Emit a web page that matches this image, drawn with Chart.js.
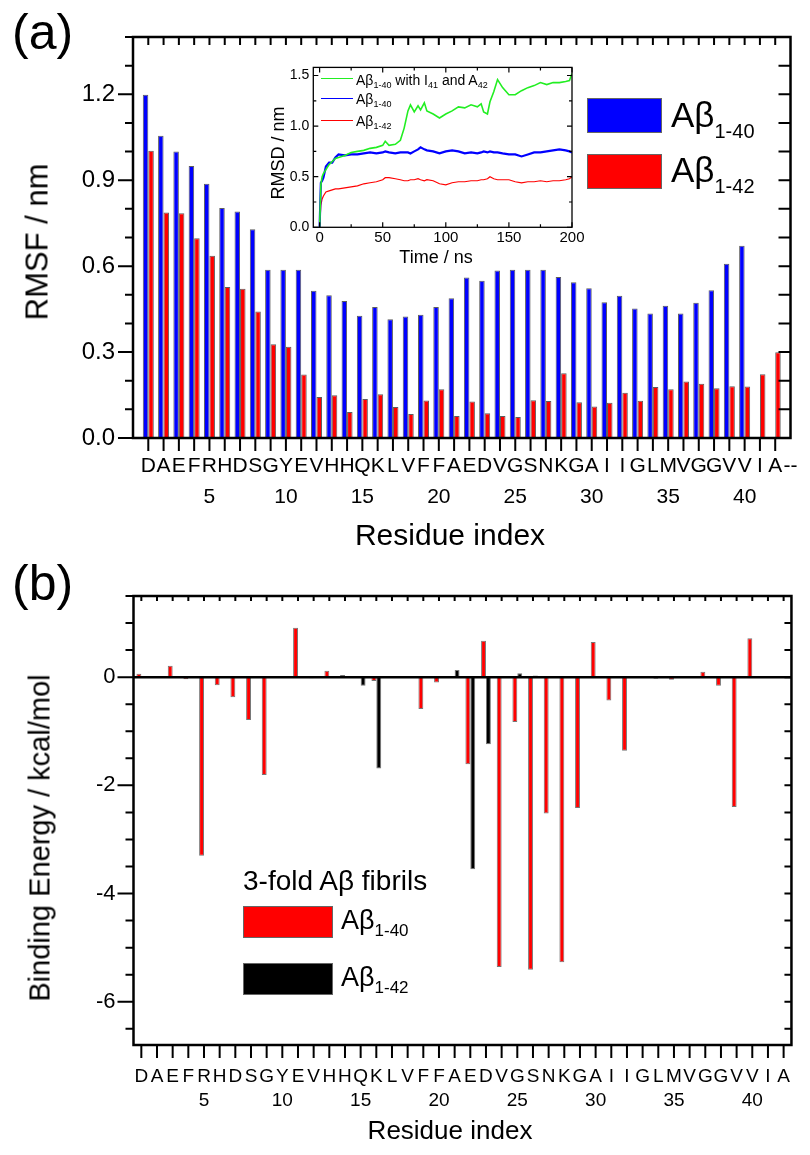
<!DOCTYPE html>
<html>
<head>
<meta charset="utf-8">
<script src="https://cdn.jsdelivr.net/npm/chart.js@4.4.0/dist/chart.umd.min.js"></script>
<style>
  body { margin: 0; background: #fff; }
  #wrap { position: relative; width: 810px; height: 1155px; font-family: 'Liberation Sans', Arial, sans-serif; color: #000; }
  canvas { position: absolute; }
  .t { position: absolute; white-space: nowrap; line-height: 1; }
  .rot { transform: translate(-50%, -50%) rotate(-90deg); }
  .ctr { transform: translate(-50%, -50%); }
  .sub { position: relative; }
  .box { position: absolute; box-sizing: border-box; border: 1px solid #666; }
  .ln { position: absolute; height: 0; width: 32px; }
</style>
</head>
<body>
<div id="wrap">
  <canvas id="rmsf" width="810" height="560" style="left:0;top:0"></canvas>
  <canvas id="rmsd" width="330" height="215" style="left:262px;top:55px"></canvas>
  <canvas id="energy" width="810" height="595" style="left:0;top:560px"></canvas>

  <div class="t" style="left:12px;top:7px;font-size:50px">(a)</div>
  <div class="t" style="left:12px;top:558px;font-size:50px">(b)</div>

  <div class="t rot" style="left:37px;top:242px;font-size:31px">RMSF / nm</div>
  <div class="t ctr" style="left:450px;top:535px;font-size:30px">Residue index</div>
  <div class="t rot" style="left:40px;top:838px;font-size:29px">Binding Energy / kcal/mol</div>
  <div class="t ctr" style="left:450px;top:1130px;font-size:26px">Residue index</div>

  <!-- inset titles -->
  <div class="t rot" style="left:278px;top:153px;font-size:18px">RMSD / nm</div>
  <div class="t ctr" style="left:436px;top:257px;font-size:18px">Time / ns</div>

  <!-- inset legend -->
  <div class="ln" style="left:321px;top:78px;border-top:1.6px solid #22ee22"></div>
  <div class="t" style="left:356px;top:73px;font-size:14px">A&beta;<span class="sub" style="font-size:9px;top:3px">1-40</span> with I<span class="sub" style="font-size:9px;top:3px">41</span> and A<span class="sub" style="font-size:9px;top:3px">42</span></div>
  <div class="ln" style="left:321px;top:98px;border-top:1.6px solid #0000ff"></div>
  <div class="t" style="left:356px;top:92px;font-size:14px">A&beta;<span class="sub" style="font-size:9px;top:3px">1-40</span></div>
  <div class="ln" style="left:321px;top:120px;border-top:1.2px solid #ff0000"></div>
  <div class="t" style="left:356px;top:114px;font-size:14px">A&beta;<span class="sub" style="font-size:9px;top:3px">1-42</span></div>

  <!-- main legend (a) -->
  <div class="box" style="left:587px;top:98px;width:75px;height:35px;background:#0000ff"></div>
  <div class="t" style="left:671px;top:97px;font-size:35px">A&beta;<span class="sub" style="font-size:20px;top:11px">1-40</span></div>
  <div class="box" style="left:587px;top:154px;width:75px;height:35px;background:#ff0000"></div>
  <div class="t" style="left:671px;top:152px;font-size:35px">A&beta;<span class="sub" style="font-size:20px;top:11px">1-42</span></div>

  <!-- legend (b) -->
  <div class="t" style="left:243px;top:867px;font-size:28px">3-fold A&beta; fibrils</div>
  <div class="box" style="left:243px;top:906px;width:90px;height:32px;background:#ff0000"></div>
  <div class="t" style="left:341px;top:907px;font-size:27px">A&beta;<span class="sub" style="font-size:17px;top:7px">1-40</span></div>
  <div class="box" style="left:243px;top:963px;width:90px;height:32px;background:#000"></div>
  <div class="t" style="left:341px;top:964px;font-size:27px">A&beta;<span class="sub" style="font-size:17px;top:7px">1-42</span></div>
</div>

<script>
const FONT = "'Liberation Sans', Arial, sans-serif";
Chart.defaults.font.family = FONT;
Chart.defaults.color = '#000';

// residue sequence (tick labels)
const residues = ['D','A','E','F','R','H','D','S','G','Y','E','V','H','H','Q','K','L','V','F','F',
                  'A','E','D','V','G','S','N','K','G','A','I','I','G','L','M','V','G','G','V','V','I','A'];

// (a) RMSF / nm per residue
const rmsf40 = [1.198, 1.055, 1.000, 0.950, 0.888, 0.803, 0.791, 0.729, 0.587, 0.587,
                0.587, 0.514, 0.498, 0.478, 0.427, 0.457, 0.415, 0.424, 0.430, 0.457,
                0.488, 0.560, 0.549, 0.585, 0.587, 0.587, 0.587, 0.562, 0.544, 0.523,
                0.474, 0.497, 0.452, 0.435, 0.462, 0.435, 0.472, 0.516, 0.608, 0.671];
const rmsf42 = [1.003, 0.787, 0.785, 0.697, 0.636, 0.527, 0.521, 0.442, 0.327, 0.319,
                0.222, 0.143, 0.149, 0.091, 0.136, 0.153, 0.108, 0.084, 0.131, 0.170,
                0.077, 0.127, 0.086, 0.077, 0.073, 0.132, 0.129, 0.226, 0.125, 0.110,
                0.123, 0.158, 0.130, 0.178, 0.170, 0.197, 0.189, 0.174, 0.181, 0.180,
                0.223, 0.299];

// inset: RMSD / nm vs time / ns
const timeNs = [0, 1, 2, 3, 5, 7.5, 10, 12.5, 15, 20, 25, 30, 35, 40, 45, 50, 52, 55, 60, 64,
                67, 70, 72, 75, 78, 80, 83, 85, 90, 95, 100, 105, 110, 115, 120, 125, 128, 130, 133, 135,
                138, 141, 145, 150, 155, 160, 165, 170, 175, 180, 185, 190, 195, 198, 200];
const rmsdAdd = [0.00, 0.42, 0.50, 0.53, 0.57, 0.62, 0.65, 0.68, 0.69, 0.71, 0.74, 0.75, 0.76, 0.78, 0.79, 0.81, 0.85, 0.81, 0.82, 0.86,
                 0.98, 1.15, 1.21, 1.14, 1.20, 1.16, 1.23, 1.15, 1.12, 1.08, 1.12, 1.15, 1.19, 1.18, 1.21, 1.19, 1.22, 1.14, 1.12, 1.24,
                 1.34, 1.46, 1.38, 1.31, 1.31, 1.35, 1.38, 1.40, 1.43, 1.41, 1.43, 1.43, 1.44, 1.45, 1.52];
const rmsd40 = [0.00, 0.44, 0.46, 0.49, 0.60, 0.64, 0.64, 0.69, 0.72, 0.71, 0.72, 0.72, 0.73, 0.74, 0.73, 0.74, 0.75, 0.74, 0.73, 0.74,
                0.74, 0.74, 0.73, 0.75, 0.77, 0.79, 0.77, 0.76, 0.75, 0.73, 0.75, 0.76, 0.75, 0.73, 0.74, 0.73, 0.74, 0.75, 0.74, 0.75,
                0.74, 0.74, 0.73, 0.72, 0.72, 0.70, 0.72, 0.74, 0.74, 0.75, 0.76, 0.77, 0.76, 0.75, 0.74];
const rmsd42 = [0.00, 0.22, 0.28, 0.31, 0.35, 0.36, 0.37, 0.38, 0.38, 0.39, 0.40, 0.41, 0.43, 0.44, 0.45, 0.47, 0.49, 0.49, 0.48, 0.47,
                0.46, 0.46, 0.47, 0.47, 0.48, 0.47, 0.46, 0.47, 0.46, 0.43, 0.42, 0.44, 0.45, 0.45, 0.46, 0.46, 0.47, 0.47, 0.48, 0.50,
                0.48, 0.47, 0.47, 0.47, 0.45, 0.44, 0.45, 0.45, 0.46, 0.45, 0.46, 0.46, 0.47, 0.48, 0.50];

// (b) binding energy / kcal/mol per residue, 3-fold fibrils
const be40 = [0.065, null, 0.21, -0.04, -3.30, -0.15, -0.37, -0.79, -1.81, null,
              0.915, -0.02, 0.12, 0.04, 0.02, -0.07, null, null, -0.59, -0.10,
              null, -1.61, 0.675, -5.36, -0.83, -5.41, -2.52, -5.27, -2.42, 0.65,
              -0.43, -1.36, null, -0.03, -0.05, null, 0.10, -0.16, -2.40, 0.72,
              null, null];
const be42 = [null, null, null, null, null, null, null, null, null, null,
              null, null, null, null, -0.16, -1.69, null, null, null, null,
              0.13, -3.55, -1.24, null, 0.07, 0.03, null, null, null, null,
              null, null, 0.01, null, null, null, null, null, null, null,
              null, null];

// frame + Origin-style tick marks drawn from the scales
const frameTicks = {
  id: 'frameTicks',
  afterDatasetsDraw(chart, args, o) {
    const { ctx, chartArea: a, scales: { x, y } } = chart;
    ctx.save();
    ctx.strokeStyle = '#000';
    ctx.lineWidth = o.tickWidth;
    ctx.beginPath();
    y.ticks.forEach((t, i) => {
      const py = y.getPixelForTick(i);
      const big = t.label !== '';
      ctx.moveTo(a.left, py);
      ctx.lineTo(a.left + (o.left.out ? -1 : 1) * (big ? o.left.major : o.left.minor), py);
      ctx.moveTo(a.right, py);
      ctx.lineTo(a.right + (o.right.out ? 1 : -1) * (big ? o.right.major : o.right.minor), py);
    });
    x.ticks.forEach((t, i) => {
      if (o.skip && o.skip.includes(i)) return;
      const px = x.getPixelForTick(i);
      const big = Array.isArray(t.label) || t.label !== '';
      ctx.moveTo(px, a.bottom);
      ctx.lineTo(px, a.bottom + (o.bottom.out ? 1 : -1) * (big ? o.bottom.major : o.bottom.minor));
      ctx.moveTo(px, a.top);
      ctx.lineTo(px, a.top + (o.top.out ? -1 : 1) * (big ? o.top.major : o.top.minor));
    });
    ctx.stroke();
    if (o.zero) {
      const p0 = y.getPixelForValue(0);
      ctx.lineWidth = o.width;
      ctx.beginPath();
      ctx.moveTo(a.left, p0);
      ctx.lineTo(a.right, p0);
      ctx.stroke();
    }
    ctx.lineWidth = o.width;
    ctx.strokeRect(a.left, a.top, a.right - a.left, a.bottom - a.top);
    ctx.restore();
  }
};

const hidden = { display: false, drawTicks: false };
const noBorder = { display: false };

// ---------- (a) RMSF bars ----------
const labelsA = ['', ...residues, '--'].map((r, i) =>
  [r, (i > 0 && i <= 40 && i % 5 === 0) ? String(i) : '']);

new Chart(document.getElementById('rmsf'), {
  type: 'bar',
  data: {
    labels: labelsA,
    datasets: [
      { label: 'Aβ1-40', data: [null, ...rmsf40, null, null, null],
        backgroundColor: '#0000ff', borderColor: 'rgba(40,40,40,0.75)', borderWidth: 1 },
      { label: 'Aβ1-42', data: [null, ...rmsf42, null],
        backgroundColor: '#ff0000', borderColor: 'rgba(40,40,40,0.75)', borderWidth: 1 }
    ]
  },
  options: {
    responsive: false,
    animation: false,
    layout: { padding: { left: 0, top: 37, right: 7, bottom: 0 } },
    datasets: { bar: { categoryPercentage: 0.72, barPercentage: 1 } },
    plugins: {
      legend: { display: false },
      tooltip: { enabled: false },
      frameTicks: {
        width: 2.5, tickWidth: 2, skip: [0, 43],
        left: { out: true, major: 15, minor: 8 },
        right: { out: false, major: 12, minor: 12 },
        bottom: { out: true, major: 13, minor: 13 },
        top: { out: false, major: 8, minor: 8 }
      }
    },
    scales: {
      x: {
        type: 'category', offset: false,
        grid: hidden, border: noBorder,
        ticks: { autoSkip: false, maxRotation: 0, minRotation: 0, padding: 12.5,
                 font: { size: 21, lineHeight: 1.48 } },
        afterFit(s) { s.height = 122; }
      },
      y: {
        min: 0, max: 1.4,
        grid: hidden, border: noBorder,
        ticks: { stepSize: 0.1, autoSkip: false, padding: 18, font: { size: 24 },
                 callback: v => (Math.round(v * 10) % 3 === 0 ? v.toFixed(1) : '') },
        afterFit(s) { s.width = 133; }
      }
    }
  },
  plugins: [frameTicks]
});

// ---------- inset RMSD lines ----------
const pts = arr => timeNs.map((t, i) => ({ x: t, y: arr[i] }));

new Chart(document.getElementById('rmsd'), {
  type: 'line',
  data: {
    datasets: [
      { label: 'Aβ1-40 with I41 and A42', data: pts(rmsdAdd), borderColor: '#22ee22', borderWidth: 1.6 },
      { label: 'Aβ1-40', data: pts(rmsd40), borderColor: '#0000ff', borderWidth: 2.2 },
      { label: 'Aβ1-42', data: pts(rmsd42), borderColor: '#ff0000', borderWidth: 1.2 }
    ]
  },
  options: {
    responsive: false,
    animation: false,
    elements: { point: { radius: 0 }, line: { tension: 0 } },
    layout: { padding: { left: 0, top: 12, right: 20, bottom: 0 } },
    plugins: {
      legend: { display: false },
      tooltip: { enabled: false },
      frameTicks: {
        width: 1.3, tickWidth: 1.2,
        left: { out: false, major: 5, minor: 3 },
        right: { out: false, major: 5, minor: 3 },
        bottom: { out: false, major: 5, minor: 3 },
        top: { out: false, major: 5, minor: 3 }
      }
    },
    scales: {
      x: {
        type: 'linear', min: -5, max: 200,
        grid: hidden, border: noBorder,
        ticks: { stepSize: 25, includeBounds: false, autoSkip: false, maxRotation: 0, padding: 2,
                 font: { size: 15 }, callback: v => (v % 50 === 0 ? String(v) : '') },
        afterFit(s) { s.height = 42.7; }
      },
      y: {
        min: 0, max: 1.58,
        grid: hidden, border: noBorder,
        ticks: { stepSize: 0.25, includeBounds: false, autoSkip: false, padding: 4,
                 font: { size: 14 }, callback: v => (Math.round(v * 100) % 50 === 0 ? v.toFixed(1) : '') },
        afterFit(s) { s.width = 51.3; }
      }
    }
  },
  plugins: [frameTicks]
});

// ---------- (b) binding energy bars ----------
const labelsB = residues.map((r, i) => [r, (i + 1) % 5 === 0 ? String(i + 1) : '']);

new Chart(document.getElementById('energy'), {
  type: 'bar',
  data: {
    labels: labelsB,
    datasets: [
      { label: 'Aβ1-40', data: be40, backgroundColor: '#ff0000', borderColor: 'rgba(60,60,60,0.7)', borderWidth: 1 },
      { label: 'Aβ1-42', data: be42, backgroundColor: '#000000', borderColor: 'rgba(60,60,60,0.7)', borderWidth: 1 }
    ]
  },
  options: {
    responsive: false,
    animation: false,
    layout: { padding: { left: 0, top: 36, right: 4, bottom: 0 } },
    datasets: { bar: { categoryPercentage: 0.625, barPercentage: 1 } },
    plugins: {
      legend: { display: false },
      tooltip: { enabled: false },
      frameTicks: {
        width: 2.5, tickWidth: 2, zero: true,
        left: { out: true, major: 16, minor: 8 },
        right: { out: false, major: 7, minor: 7 },
        bottom: { out: true, major: 13, minor: 13 },
        top: { out: false, major: 5, minor: 5 }
      }
    },
    scales: {
      x: {
        type: 'category', offset: true,
        grid: hidden, border: noBorder,
        ticks: { autoSkip: false, maxRotation: 0, minRotation: 0, padding: 20,
                 font: { size: 19, lineHeight: 1.26 } },
        afterFit(s) { s.height = 110; }
      },
      y: {
        min: -6.8, max: 1.5,
        grid: hidden, border: noBorder,
        ticks: { stepSize: 0.5, includeBounds: false, autoSkip: false, padding: 18, font: { size: 22 },
                 callback: v => (Math.abs(v % 2) < 1e-9 ? String(Math.round(v) || 0) : '') },
        afterFit(s) { s.width = 133.5; }
      }
    }
  },
  plugins: [frameTicks]
});
</script>
</body>
</html>
